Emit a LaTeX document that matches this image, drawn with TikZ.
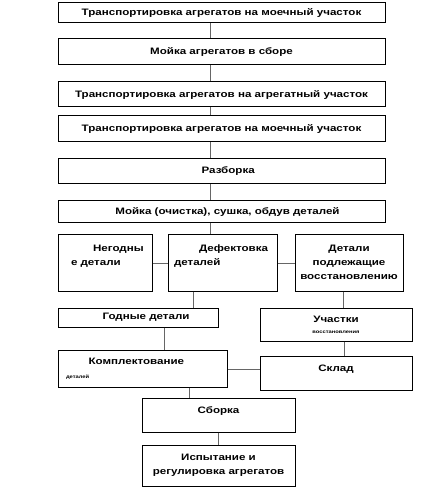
\documentclass[tikz,border=0pt]{standalone}
\usepackage{fontspec}
\setmainfont{Liberation Sans}[FakeStretch=1.24]
\usepackage{tikz}
\usetikzlibrary{calc}
\newcommand{\cutline}{\fontsize{3.5}{4}\selectfont}

\begin{document}
\begin{tikzpicture}[
    x=0.75pt, y=-0.75pt,
    box/.style={draw, line width=0.75pt, align=center, inner sep=1pt,
                font=\fontsize{7}{10.5}\selectfont\bfseries},
    lbox/.style={box, align=left},
    ln/.style={draw=black!60, line width=0.75pt},
]
\useasboundingbox (0,0) rectangle (436,491);
% ---- Main column (top to bottom) ----
\node[box, minimum width=245.25pt, minimum height=15pt]    (A) at (221.5, 13)    {Транспортировка агрегатов на моечный участок};
\node[box, minimum width=245.25pt, minimum height=19.5pt]  (B) at (221.5, 52)    {Мойка агрегатов в сборе};
\node[box, minimum width=245.25pt, minimum height=18.75pt] (C) at (221.5, 94.5)  {Транспортировка агрегатов на агрегатный участок};
\node[box, minimum width=245.25pt, minimum height=19.5pt]  (D) at (221.5, 129)   {Транспортировка агрегатов на моечный участок};
\node[box, minimum width=245.25pt, minimum height=18.75pt] (E) at (221.5, 171.5) {\hspace*{10pt}Разборка};
\node[box, minimum width=245.25pt, minimum height=15.75pt] (F) at (221.5, 211.5) {\hspace*{9pt}Мойка (очистка), сушка, обдув деталей};
% ---- Sorting row ----
\node[lbox, minimum width=70.5pt, text width=68.5pt, minimum height=42.75pt]   (N) at (105, 262.5)   {\hspace*{25.3pt}Негодны\\\hspace*{8.8pt}е детали\\\mbox{}};
\node[lbox, minimum width=81.75pt, text width=79.75pt, minimum height=42.75pt] (G) at (222.5, 262.5) {\hspace*{22.3pt}Дефектовка\\\hspace*{3.5pt}деталей\\\mbox{}};
\node[box, minimum width=81pt, minimum height=42.75pt]                         (H) at (349, 262.5)   {Детали\\подлежащие\\восстановлению};
% ---- Lower part ----
\node[box, minimum width=120pt, minimum height=14.25pt] (I) at (138, 317.5) {\hspace*{12pt}Годные детали};
\node[box, minimum width=114pt, minimum height=24.75pt] (J) at (336, 324.5) {Участки\\[-2pt]{\cutline восстановления}};
\node[lbox, minimum width=126.75pt, text width=124.75pt, minimum height=27.75pt] (K) at (142.5, 368.5) {\hspace*{22pt}Комплектование\\{\cutline\hspace*{5pt}деталей}};
\node[box, minimum width=114pt, minimum height=25.5pt]  (L) at (336, 373)   {Склад\\[-3pt]\mbox{}};
\node[box, minimum width=114.75pt, minimum height=25.5pt] (M) at (218.5, 415) {Сборка\\[-3pt]\mbox{}};
\node[box, minimum width=114.75pt, minimum height=30.75pt] (O) at (218.5, 465.5) {Испытание и\\регулировка агрегатов};

% ---- Connectors ----
\foreach \p/\q in {A/B, B/C, C/D, D/E, E/F}
  \draw[ln] ([xshift=-8pt]\p.south) -- ([xshift=-8pt]\q.north);
\draw[ln] ([xshift=-8pt]F.south) -- ([xshift=-8pt]F.south |- G.north);
\draw[ln] ([yshift=-1pt]N.east) -- ([yshift=-1pt]G.west);
\draw[ln] ([yshift=-1pt]G.east) -- ([yshift=-1pt]H.west);
\draw[ln] ([xshift=-22pt]G.south) -- ([xshift=-22pt]G.south |- I.north);
\draw[ln] ([xshift=-4pt]H.south) -- ([xshift=-4pt]H.south |- J.north);
\draw[ln] ([xshift=19.5pt]I.south) -- ([xshift=19.5pt]I.south |- K.north);
\draw[ln] ([xshift=6pt]J.south) -- ([xshift=6pt]J.south |- L.north);
\draw[ln] ([yshift=-1pt]K.east) -- ([yshift=-1pt]K.east -| L.west);
\draw[ln] ([xshift=35.5pt]K.south) -- ([xshift=35.5pt]K.south |- M.north);
\draw[ln] (M.south) -- (O.north);
\end{tikzpicture}
\end{document}
